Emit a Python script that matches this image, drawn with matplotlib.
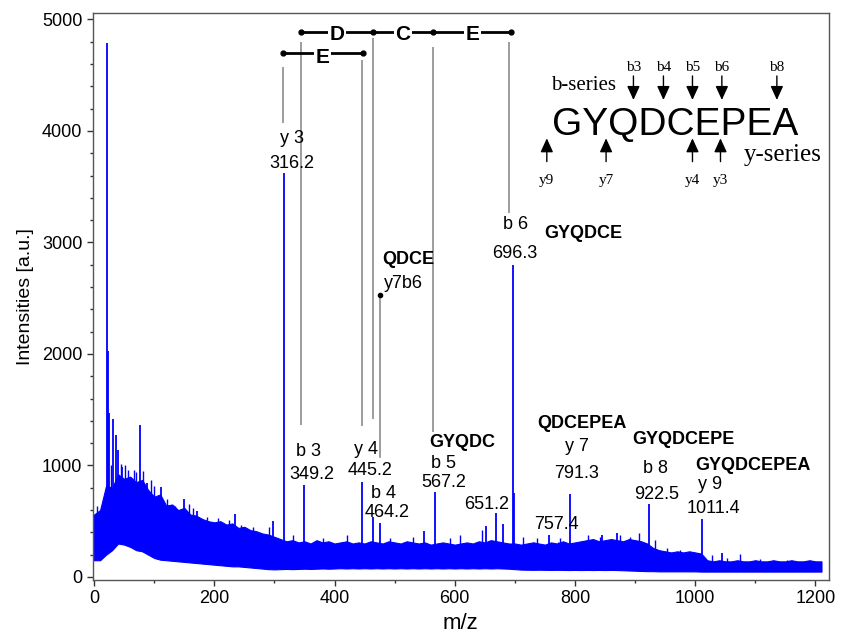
import numpy as np
import matplotlib.pyplot as plt
from matplotlib.ticker import MultipleLocator

plt.rcParams["font.family"] = ["Liberation Sans", "DejaVu Sans"]

# noise band, every 10 m/z from 0 to 1210
noise_mz = list(range(0, 1220, 10))
noise_top = [
    560, 600, 820, 800, 920, 880, 900, 850, 870, 780,
    720, 740, 640, 650, 600, 620, 560, 550, 520, 500,
    490, 500, 470, 480, 440, 450, 420, 410, 390, 380,
    360, 340, 320, 330, 310, 320, 300, 330, 310, 320,
    300, 310, 320, 300, 310, 300, 320, 310, 300, 320,
    310, 300, 320, 310, 300, 310, 290, 300, 310, 300,
    290, 300, 310, 300, 320, 310, 330, 320, 310, 300,
    300, 290, 300, 310, 300, 290, 310, 300, 320, 300,
    310, 320, 330, 340, 320, 330, 340, 330, 320, 340,
    330, 320, 300, 260, 240, 230, 220, 230, 220, 230,
    220, 210, 150, 140, 150, 140, 140, 150, 140, 140,
    150, 140, 140, 150, 140, 140, 150, 140, 140, 150,
    140, 140,
]
noise_bottom = [
    150, 150, 200, 240, 300, 290, 270, 240, 230, 200,
    170, 155, 150, 145, 140, 135, 130, 125, 120, 115,
    110, 105, 100, 95, 95, 90, 85, 80, 75, 70,
    68, 70, 72, 70, 72, 74, 72, 74, 76, 74,
    76, 78, 76, 78, 76, 78, 76, 78, 76, 78,
    76, 78, 76, 78, 76, 78, 76, 78, 76, 78,
    76, 78, 76, 78, 76, 78, 76, 78, 76, 74,
    70, 66, 65, 64, 65, 64, 63, 64, 63, 62,
    63, 62, 63, 62, 63, 62, 63, 62, 60, 58,
    56, 54, 52, 52, 50, 50, 50, 50, 50, 50,
    50, 48, 48, 48, 48, 48, 48, 48, 48, 48,
    48, 48, 48, 48, 48, 48, 48, 48, 48, 48,
    48, 48,
]

# peaks (m/z, intensity)
peak_mz = [21, 23, 24, 32, 36, 40, 47, 61, 76, 88, 111, 150, 172, 234, 298,
           316.2, 349.2, 445.2, 464.2, 475.3, 548, 567.2, 651.2, 669, 680,
           696.3, 699, 757.4, 791.3, 845, 870, 922.5, 1011.4, 1045]
peak_int = [4790, 2030, 1470, 1420, 1270, 1140, 990, 885, 1360, 840, 810, 700, 590, 565, 500,
            3625, 825, 855, 541, 485, 415, 758, 458, 577, 475,
            2800, 756, 377, 744, 375, 390, 655, 520, 212]

# smaller noise spikes poking out of the band
spike_mz = [5, 12, 28, 44, 52, 56, 66, 70, 82, 95, 100, 121, 128, 135, 158, 165,
            187, 206, 225, 245, 264, 291, 331, 381, 420, 492, 531, 592, 609, 645,
            714, 731, 736, 772, 775, 822, 842, 875, 892, 906, 933, 953, 975, 997,
            1028, 1053, 1075, 1108, 1152, 1191]
spike_int = [640, 620, 1000, 1010, 1000, 960, 960, 940, 950, 870, 820, 697, 647, 640, 650, 620,
             540, 525, 510, 465, 450, 450, 375, 347, 375, 347, 362, 347, 375, 421,
             362, 317, 347, 317, 347, 377, 362, 377, 362, 392, 332, 257, 242, 227,
             197, 167, 207, 158, 152, 138]

# fragment ladder lines: m/z, top, bottom
frag_mz = [314.8, 343.8, 445.3, 463.6, 564.4, 690.8]
frag_top = [4577, 4801, 4637, 4832, 4756, 4794]
frag_bottom = [4069, 1363, 1354, 1417, 1303, 3267]

upper_bar = [343.8, 463.6, 564.4, 694.3]
upper_res = ["D", "C", "E"]
lower_bar = [313.8, 446.9]
lower_res = ["E"]

# annotations: text, m/z, intensity, bold
labels = [
    ("y 3", 328.8, 3934, False), ("316.2", 328.8, 3704, False),
    ("b 6", 700.3, 3157, False), ("696.3", 700.3, 2903, False),
    ("GYQDCE", 814, 3076, True),
    ("QDCE", 522.8, 2843, True), ("y7b6", 514.5, 2634, False),
    ("b 3", 356.4, 1124, False), ("349.2", 362, 915, False),
    ("y 4", 452.4, 1139, False), ("445.2", 459, 953, False),
    ("b 4", 481.2, 751, False), ("464.2", 486.9, 577, False),
    ("GYQDC", 611.6, 1208, True), ("b 5", 581, 1020, False), ("567.2", 581, 846, False),
    ("651.2", 653.2, 646, False), ("757.4", 769.7, 466, False),
    ("QDCEPEA", 811.3, 1372, True), ("y 7", 803, 1169, False), ("791.3", 803, 924, False),
    ("GYQDCEPE", 980.4, 1229, True), ("b 8", 933.3, 975, False), ("922.5", 936.1, 742, False),
    ("GYQDCEPEA", 1096.8, 1004, True), ("y 9", 1024.8, 825, False), ("1011.4", 1030.3, 616, False),
]

# sequence inset
b_ions = ["b3", "b4", "b5", "b6", "b8"]
b_ion_mz = [897.2, 947.1, 995.4, 1044.3, 1135.8]
y_ions = ["y9", "y7", "y4", "y3"]
y_ion_mz = [753.1, 851.7, 995.4, 1042.0]

fig = plt.figure(figsize=(8.56, 6.36), dpi=100)
ax = fig.add_axes([0.1083, 0.0881, 0.8598, 0.892])

blue = "#0000ff"
ax.fill_between(noise_mz, noise_bottom, noise_top, color=blue, lw=0.8, edgecolor=blue)
# sticks start inside the band so nothing shows below it
spike_base = np.interp(spike_mz, noise_mz, noise_bottom) + 30
ax.vlines(spike_mz, spike_base, spike_int, color=blue, lw=1.0)
peak_base = np.interp(peak_mz, noise_mz, noise_bottom) + 30
ax.vlines(peak_mz, peak_base, peak_int, color=blue, lw=1.3)

gray = "#8c8c8c"
ax.vlines(frag_mz, frag_bottom, frag_top, color=gray, lw=1.2)
ax.plot([475.7, 475.7], [2529, 1079], color=gray, lw=1.2)
ax.plot([475.7], [2529], "o", color="black", ms=3)

ax.plot(upper_bar, [4890] * len(upper_bar), "-", color="black", lw=2, marker="o", ms=3.5)
for i, r in enumerate(upper_res):
    ax.text((upper_bar[i] + upper_bar[i + 1]) / 2, 4862, r, ha="center", va="center",
            fontsize=15, fontweight="bold",
            bbox=dict(facecolor="white", edgecolor="none", pad=1))
ax.plot(lower_bar, [4702] * len(lower_bar), "-", color="black", lw=2, marker="o", ms=3.5)
ax.text(sum(lower_bar) / 2, 4660, lower_res[0], ha="center", va="center",
        fontsize=15, fontweight="bold",
        bbox=dict(facecolor="white", edgecolor="none", pad=1))

for txt, x, y, bold in labels:
    ax.text(x, y, txt, ha="center", va="center", fontsize=13,
            fontweight="bold" if bold else "normal")

serif = ["Liberation Serif", "DejaVu Serif"]
ax.text(814, 4404, "b-series", ha="center", va="center", fontsize=15, family=serif)
ax.text(1146, 3785, "y-series", ha="center", va="center", fontsize=18, family=serif)
ax.text(966.6, 3964, "GYQDCEPEA", ha="center", va="baseline", fontsize=28)
arrow = dict(arrowstyle="-|>,head_length=0.7,head_width=0.32", color="black",
             lw=1.0, shrinkA=0, shrinkB=0, mutation_scale=12)
for name, x in zip(b_ions, b_ion_mz):
    ax.text(x, 4570, name, ha="center", va="center", fontsize=11, family=serif)
    ax.annotate("", xy=(x, 4278), xytext=(x, 4493), arrowprops=arrow)
for name, x in zip(y_ions, y_ion_mz):
    ax.text(x, 3552, name, ha="center", va="center", fontsize=11, family=serif)
    ax.annotate("", xy=(x, 3934), xytext=(x, 3725), arrowprops=arrow)

ax.set_xlim(-2.3, 1222)
ax.set_ylim(-27, 5061)
ax.xaxis.set_major_locator(MultipleLocator(200))
ax.xaxis.set_minor_locator(MultipleLocator(100))
ax.yaxis.set_major_locator(MultipleLocator(1000))
ax.yaxis.set_minor_locator(MultipleLocator(200))
ax.tick_params(which="major", direction="out", length=4, width=1, labelsize=13, colors="#333333",
               labelcolor="black")
ax.tick_params(which="minor", direction="out", length=2, width=1, colors="#333333")
for s in ax.spines.values():
    s.set_color("#555555")
    s.set_linewidth(1)

ax.set_xlabel("m/z", fontsize=16, labelpad=4)
ax.set_ylabel("Intensities [a.u.]", fontsize=14, labelpad=6)

fig.savefig("out.png", dpi=100)
